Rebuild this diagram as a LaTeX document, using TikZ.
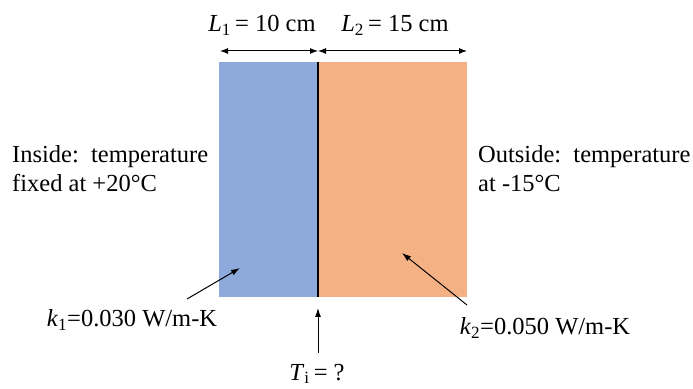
\documentclass[tikz,border=0pt]{standalone}
\usepackage{fontspec}
\setmainfont{Liberation Serif}
\usetikzlibrary{arrows.meta}
\definecolor{wallblue}{RGB}{142,169,219}
\definecolor{wallorange}{RGB}{244,177,131}

\begin{document}
\begin{tikzpicture}[x=1pt,y=1pt,
      every node/.style={inner sep=0pt,font=\fontsize{24.5}{29}\selectfont},
      dim/.style={{Latex[length=8pt,width=6pt]}-{Latex[length=8pt,width=6pt]},line width=1pt},
      pointer/.style={-{Latex[length=9pt,width=6pt]},line width=1pt}
     ]
\useasboundingbox (0,0) rectangle (693,388);
% the two layers of the wall
\fill[wallblue] (219,91) rectangle (318,326);
\fill[wallorange] (318,91) rectangle (467,326);
\draw[line width=2.5pt] (318,91) -- (318,326);
% thicknesses
\coordinate (l1a) at (220,337);
\coordinate (mid) at (318,337);
\coordinate (l2b) at (467,337);
\draw[dim] (l1a) -- (mid);
\draw[dim] (mid) -- (l2b);
\node[anchor=base] (l1) at (262,356) {\textit{L}\textsubscript{1}\,= 10 cm};
\node[anchor=base] (l2) at (395,356) {\textit{L}\textsubscript{2}\,= 15 cm};
% boundary conditions
\node[anchor=base west,align=left] (inside) at (12,196) {Inside:\ \ temperature\\fixed at +20°C};
\node[anchor=base west,align=left] (outside) at (478,196) {Outside:\ \ temperature\\at -15°C};
% conductivities
\node[anchor=base] (k1) at (132,61) {\textit{k}\textsubscript{1}=0.030 W/m-K};
\node[anchor=base] (k2) at (545,53) {\textit{k}\textsubscript{2}=0.050 W/m-K};
\coordinate (k1tail) at (187,89);
\coordinate (k1tip) at (240,120);
\coordinate (k2tail) at (467,83);
\coordinate (k2tip) at (402,135);
\draw[pointer] (k1tail) -- (k1tip);
\draw[pointer] (k2tail) -- (k2tip);
% interface temperature
\node[anchor=base] (ti) at (317,8) {\textit{T}\textsubscript{i}\,= ?};
\coordinate (titail) at (318,35);
\coordinate (titip) at (318,80);
\draw[pointer] (titail) -- (titip);
\end{tikzpicture}
\end{document}
